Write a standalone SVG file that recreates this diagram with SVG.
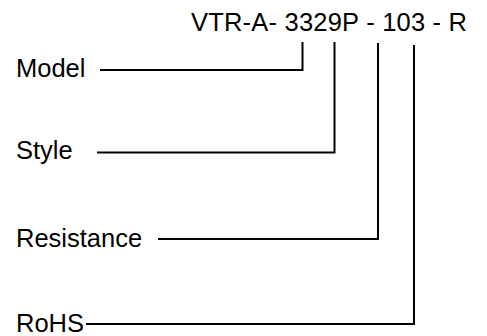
<svg xmlns="http://www.w3.org/2000/svg" width="487" height="336" viewBox="0 0 487 336">
<style>
text{font-family:"Liberation Sans",Arial,sans-serif;font-size:25.5px;fill:#000}
.c{fill:none;stroke:#000;stroke-width:2}
</style>
<rect width="487" height="336" fill="#fff"/>
<g id="code"><text x="191" y="31" textLength="276">VTR-A- 3329P - 103 - R</text></g>
<g id="model"><text x="16" y="77">Model</text></g>
<g id="style"><text x="16" y="159">Style</text></g>
<g id="resistance"><text x="16" y="247">Resistance</text></g>
<g id="rohs"><text x="16" y="332">RoHS</text></g>
<g id="connectors">
<polyline class="c" points="100,70 302.5,70 302.5,42"/>
<polyline class="c" points="97,152.5 334.5,152.5 334.5,42"/>
<polyline class="c" points="158,239 378,239 378,43"/>
<polyline class="c" points="86,324 414,324 414,45"/>
</g>
</svg>
